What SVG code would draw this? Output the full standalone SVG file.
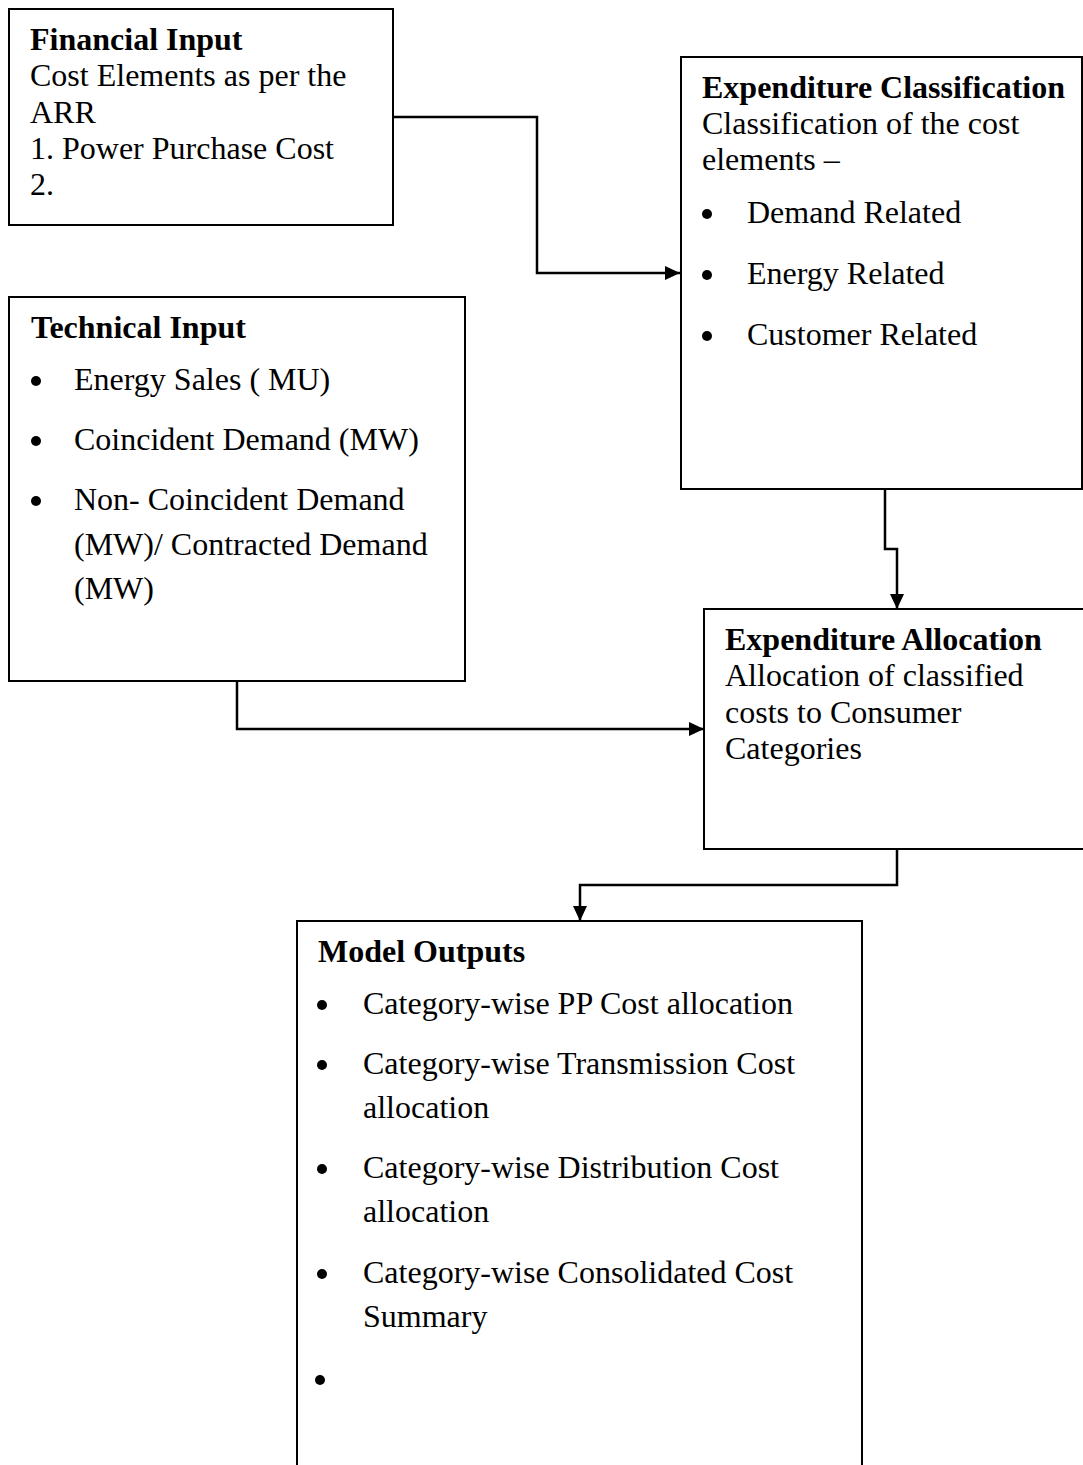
<svg xmlns="http://www.w3.org/2000/svg" width="1083" height="1465" viewBox="0 0 1083 1465">
<style>
  .box { fill: #fff; stroke: #000; stroke-width: 2; }
  .conn { fill: none; stroke: #000; stroke-width: 2.5; }
  text { font-family: "Liberation Serif", "Times New Roman", serif; font-size: 32px; fill: #000; }
  .b { font-weight: bold; }
  .dot { fill: #000; }
</style>
<defs>
  <marker id="arr" markerWidth="16" markerHeight="16" refX="15" refY="8" orient="auto" markerUnits="userSpaceOnUse">
    <path d="M0,1 L15,8 L0,15 Z" fill="#000"/>
  </marker>
</defs>
<rect width="1083" height="1465" fill="#fff"/>

<g id="connectors">
  <path class="conn" d="M393,117 H537 V273 H680" marker-end="url(#arr)"/>
  <path class="conn" d="M237,681 V729 H704" marker-end="url(#arr)"/>
  <path class="conn" d="M885,489 V549 H897 V609" marker-end="url(#arr)"/>
  <path class="conn" d="M897,849 V885 H580 V921" marker-end="url(#arr)"/>
</g>

<g id="financial-input">
  <rect class="box" x="9" y="9" width="384" height="216"/>
  <text class="b" x="30" y="50">Financial Input</text>
  <text x="30" y="86">Cost Elements as per the</text>
  <text x="30" y="123">ARR</text>
  <text x="30" y="159">1. Power Purchase Cost</text>
  <text x="30" y="195">2.</text>
</g>

<g id="expenditure-classification">
  <rect class="box" x="681" y="57" width="401" height="432"/>
  <text class="b" x="702" y="98">Expenditure Classification</text>
  <text x="702" y="134">Classification of the cost</text>
  <text x="702" y="170">elements –</text>
  <circle class="dot" cx="707" cy="214" r="5"/>
  <text x="747" y="223">Demand Related</text>
  <circle class="dot" cx="707" cy="275" r="5"/>
  <text x="747" y="284">Energy Related</text>
  <circle class="dot" cx="707" cy="336" r="5"/>
  <text x="747" y="345">Customer Related</text>
</g>

<g id="technical-input">
  <rect class="box" x="9" y="297" width="456" height="384"/>
  <text class="b" x="31" y="338">Technical Input</text>
  <circle class="dot" cx="36" cy="381" r="5"/>
  <text x="74" y="390">Energy Sales ( MU)</text>
  <circle class="dot" cx="36" cy="441" r="5"/>
  <text x="74" y="450">Coincident Demand (MW)</text>
  <circle class="dot" cx="36" cy="501" r="5"/>
  <text x="74" y="510">Non- Coincident Demand</text>
  <text x="74" y="555">(MW)/ Contracted Demand</text>
  <text x="74" y="599">(MW)</text>
</g>

<g id="expenditure-allocation">
  <rect class="box" x="704" y="609" width="400" height="240"/>
  <text class="b" x="725" y="650">Expenditure Allocation</text>
  <text x="725" y="686">Allocation of classified</text>
  <text x="725" y="723">costs to Consumer</text>
  <text x="725" y="759">Categories</text>
</g>

<g id="model-outputs">
  <rect class="box" x="297" y="921" width="565" height="600"/>
  <text class="b" x="318" y="962">Model Outputs</text>
  <circle class="dot" cx="322" cy="1005" r="5"/>
  <text x="363" y="1014">Category-wise PP Cost allocation</text>
  <circle class="dot" cx="322" cy="1065" r="5"/>
  <text x="363" y="1074">Category-wise Transmission Cost</text>
  <text x="363" y="1118">allocation</text>
  <circle class="dot" cx="322" cy="1169" r="5"/>
  <text x="363" y="1178">Category-wise Distribution Cost</text>
  <text x="363" y="1222">allocation</text>
  <circle class="dot" cx="322" cy="1274" r="5"/>
  <text x="363" y="1283">Category-wise Consolidated Cost</text>
  <text x="363" y="1327">Summary</text>
  <circle class="dot" cx="320" cy="1380" r="5"/>
</g>
</svg>
